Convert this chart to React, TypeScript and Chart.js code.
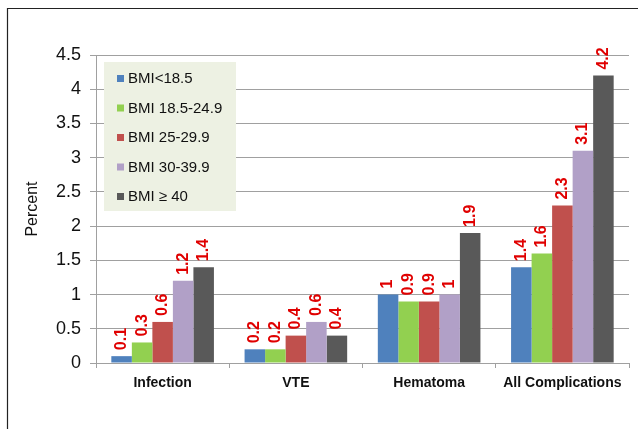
import React, { useEffect, useRef } from "react";
import { Chart, registerables } from "chart.js";

Chart.register(...registerables);

const categories = ["Infection", "VTE", "Hematoma", "All Complications"];
const seriesLabels = ["BMI<18.5", "BMI 18.5-24.9", "BMI 25-29.9", "BMI 30-39.9", "BMI \u2265 40"];
const bmiUnder185 = [0.1, 0.2, 1, 1.4];
const bmi185to249 = [0.3, 0.2, 0.9, 1.6];
const bmi25to299 = [0.6, 0.4, 0.9, 2.3];
const bmi30to399 = [1.2, 0.6, 1, 3.1];
const bmi40plus = [1.4, 0.4, 1.9, 4.2];
const seriesColors = ["#4f81bd", "#92d050", "#c0504d", "#b1a0c7", "#595959"];
const yTicks = [0, 0.5, 1, 1.5, 2, 2.5, 3, 3.5, 4, 4.5];

const FONT = "'Liberation Sans', Arial, sans-serif";

const framePlugin = {
  id: "frame",
  beforeDraw(chart: any) {
    const ctx = chart.ctx;
    ctx.save();
    ctx.strokeStyle = "#222";
    ctx.lineWidth = 1.2;
    ctx.beginPath();
    ctx.moveTo(7.5, chart.height);
    ctx.lineTo(7.5, 8.5);
    ctx.lineTo(chart.width, 8.5);
    ctx.stroke();
    ctx.restore();
  },
};

const valueLabelPlugin = {
  id: "valueLabels",
  afterDatasetsDraw(chart: any) {
    const ctx = chart.ctx;
    ctx.save();
    ctx.fillStyle = "#e00000";
    ctx.font = `bold 16px ${FONT}`;
    ctx.textAlign = "left";
    ctx.textBaseline = "middle";
    chart.data.datasets.forEach((ds: any, i: number) => {
      const meta = chart.getDatasetMeta(i);
      meta.data.forEach((bar: any, j: number) => {
        const v = ds.data[j];
        ctx.save();
        ctx.translate(bar.x, bar.y - 6);
        ctx.rotate(-Math.PI / 2);
        ctx.fillText(String(v), 0, 0);
        ctx.restore();
      });
    });
    ctx.restore();
  },
};

const boxLegendPlugin = {
  id: "boxLegend",
  afterDatasetsDraw(chart: any) {
    const ctx = chart.ctx;
    const area = chart.chartArea;
    const x0 = area.left + 8;
    const y0 = area.top + 7;
    const w = 132;
    const h = 149;
    ctx.save();
    ctx.fillStyle = "#edf1e3";
    ctx.fillRect(x0, y0, w, h);
    ctx.font = `15px ${FONT}`;
    ctx.textBaseline = "middle";
    ctx.textAlign = "left";
    chart.data.datasets.forEach((ds: any, i: number) => {
      const cy = y0 + 17 + i * 29.5;
      ctx.fillStyle = ds.backgroundColor;
      ctx.fillRect(x0 + 13, cy - 4, 7, 7);
      ctx.fillStyle = "#111";
      ctx.fillText(ds.label, x0 + 24, cy);
    });
    ctx.restore();
  },
};

export default function App() {
  const ref = useRef<HTMLCanvasElement | null>(null);
  useEffect(() => {
    document.body.style.margin = "0";
    const seriesData = [bmiUnder185, bmi185to249, bmi25to299, bmi30to399, bmi40plus];
    const chart = new Chart(ref.current as HTMLCanvasElement, {
      type: "bar",
      data: {
        labels: categories,
        datasets: seriesData.map((d, i) => ({
          label: seriesLabels[i],
          data: d,
          backgroundColor: seriesColors[i],
          borderWidth: 0,
          categoryPercentage: 0.77,
          barPercentage: 1.0,
        })),
      },
      options: {
        animation: false,
        responsive: false,
        layout: { padding: { left: 0, right: 9, top: 55, bottom: 0 } },
        plugins: {
          legend: { display: false },
          tooltip: { enabled: false },
        },
        scales: {
          x: {
            grid: {
              display: true,
              drawOnChartArea: false,
              drawTicks: true,
              tickLength: 5,
              color: "#a0a0a0",
              offset: true,
            },
            border: { color: "#a0a0a0", width: 1 },
            ticks: {
              color: "#111",
              font: { family: FONT, size: 14, weight: "bold" },
              padding: 7,
              maxRotation: 0,
            },
            afterFit(scale: any) {
              scale.height = 66;
            },
          },
          y: {
            min: 0,
            max: 4.5,
            afterBuildTicks(scale: any) {
              scale.ticks = yTicks.map((v) => ({ value: v }));
            },
            grid: {
              color: "#a0a0a0",
              lineWidth: 1,
              tickLength: 6,
            },
            border: { color: "#a0a0a0", width: 1 },
            ticks: {
              color: "#111",
              font: { family: FONT, size: 18 },
              padding: 9,
              callback: (v: any) => String(v),
            },
            title: {
              display: true,
              text: "Percent",
              color: "#111",
              font: { family: FONT, size: 16 },
              padding: { top: 23, bottom: 0 },
            },
            afterFit(scale: any) {
              scale.width = 96;
            },
          },
        },
      },
      plugins: [framePlugin, valueLabelPlugin, boxLegendPlugin],
    } as any);
    return () => chart.destroy();
  }, []);
  return <canvas ref={ref} width={638} height={429} style={{ display: "block" }} />;
}
